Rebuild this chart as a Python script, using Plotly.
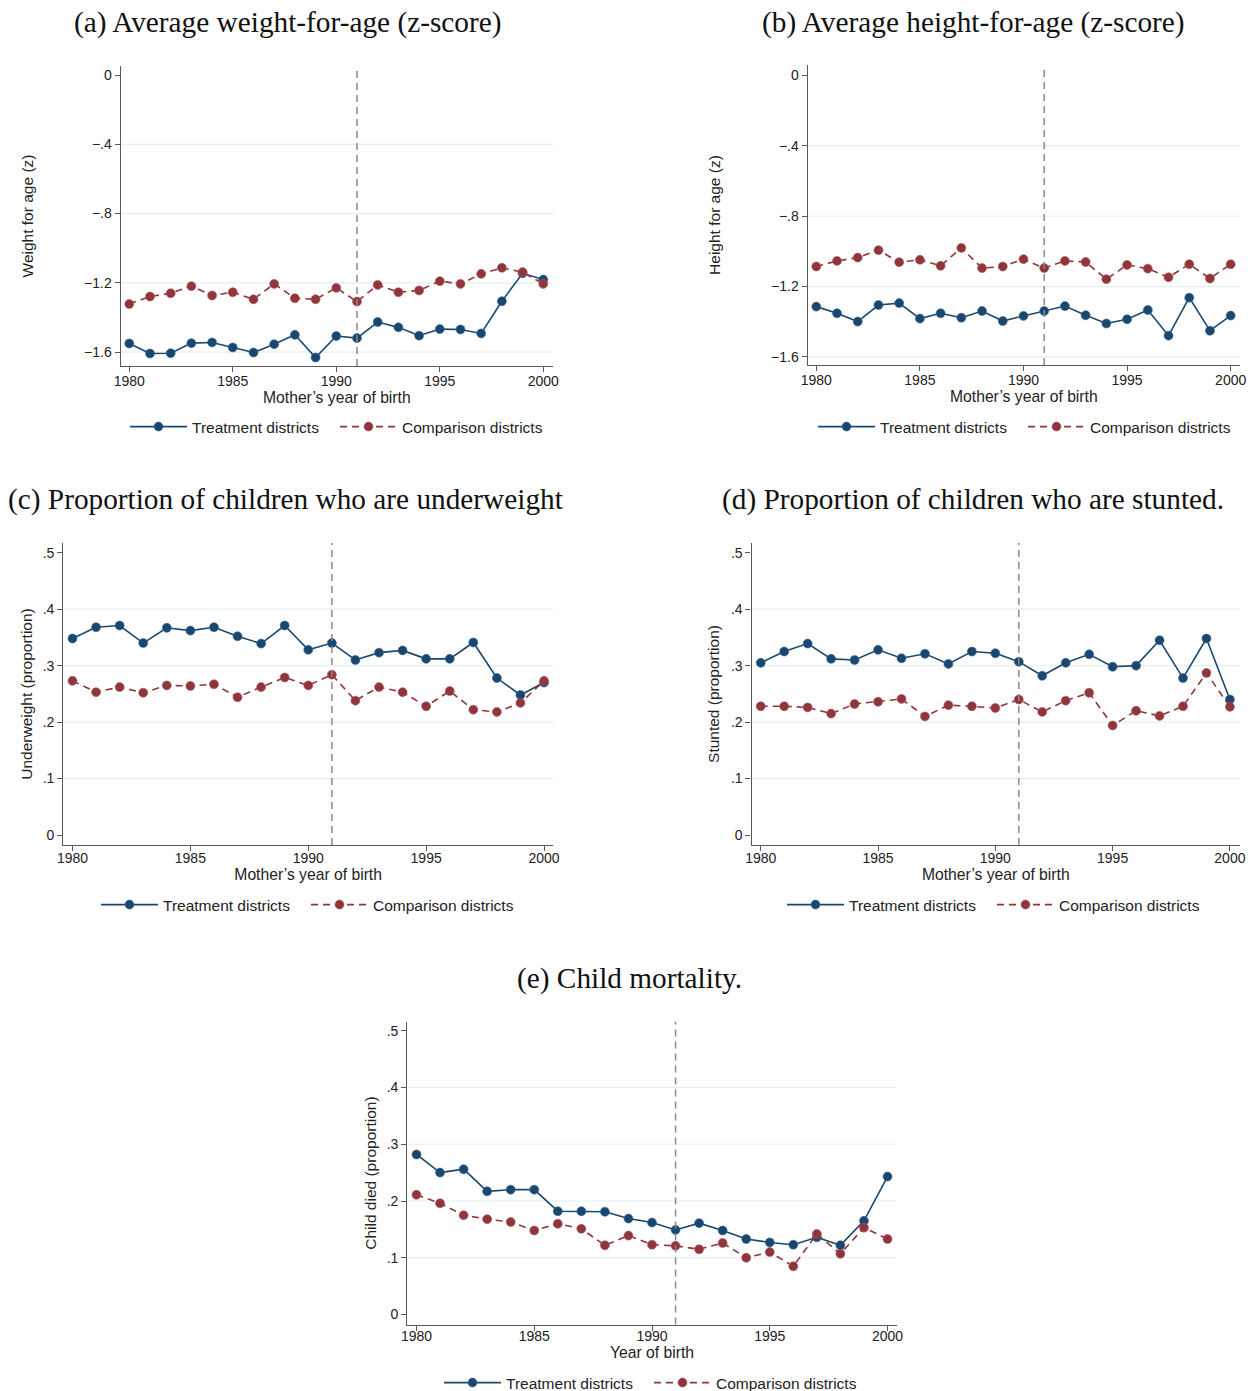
import plotly.graph_objects as go

years = list(range(1980, 2001))

wfa_treat = [-1.550, -1.608, -1.606, -1.548, -1.544, -1.573, -1.602, -1.554, -1.500, -1.631, -1.507,
             -1.519, -1.426, -1.457, -1.505, -1.467, -1.469, -1.492, -1.306, -1.145, -1.181]
wfa_comp = [-1.322, -1.279, -1.260, -1.219, -1.273, -1.254, -1.295, -1.206, -1.289, -1.295, -1.229,
            -1.308, -1.212, -1.254, -1.244, -1.190, -1.206, -1.148, -1.113, -1.138, -1.206]

hfa_treat = [-1.314, -1.352, -1.399, -1.305, -1.294, -1.382, -1.352, -1.377, -1.339, -1.396, -1.367,
             -1.339, -1.311, -1.363, -1.410, -1.386, -1.333, -1.479, -1.263, -1.451, -1.365]
hfa_comp = [-1.086, -1.054, -1.035, -0.993, -1.061, -1.048, -1.082, -0.980, -1.095, -1.086, -1.044,
            -1.095, -1.054, -1.060, -1.158, -1.077, -1.098, -1.147, -1.073, -1.154, -1.073]

uw_treat = [.348, .368, .371, .340, .367, .362, .368, .352, .339, .371, .328,
            .340, .310, .323, .327, .312, .312, .341, .278, .248, .270]
uw_comp = [.273, .253, .262, .252, .265, .264, .267, .244, .262, .279, .265,
           .284, .238, .262, .253, .228, .255, .222, .218, .234, .273]

st_treat = [.305, .325, .339, .312, .310, .328, .313, .321, .303, .325, .322,
            .307, .282, .305, .320, .298, .300, .345, .278, .348, .240]
st_comp = [.228, .228, .226, .215, .232, .236, .241, .210, .230, .228, .225,
           .240, .218, .238, .252, .194, .220, .211, .228, .287, .227]

cm_treat = [.282, .250, .256, .217, .220, .220, .182, .182, .181, .169, .162,
            .149, .161, .148, .133, .127, .123, .136, .122, .165, .243]
cm_comp = [.211, .196, .175, .168, .163, .148, .160, .151, .122, .139, .123,
           .121, .115, .126, .100, .110, .085, .142, .107, .153, .133]

cutoff_year = 1991
x_ticks = [1980, 1985, 1990, 1995, 2000]
z_ticks = [0, -0.4, -0.8, -1.2, -1.6]
z_ticktext = ["0", "\u2212.4", "\u2212.8", "\u22121.2", "\u22121.6"]
p_ticks = [0, .1, .2, .3, .4, .5]
p_ticktext = ["0", ".1", ".2", ".3", ".4", ".5"]

titles = ["(a) Average weight-for-age (z-score)",
          "(b) Average height-for-age (z-score)",
          "(c) Proportion of children who are underweight",
          "(d) Proportion of children who are stunted.",
          "(e) Child mortality."]
y_titles = ["Weight for age (z)", "Height for age (z)", "Underweight (proportion)",
            "Stunted (proportion)", "Child died (proportion)"]
x_titles = ["Mother\u2019s year of birth"] * 4 + ["Year of birth"]
series_names = ["Treatment districts", "Comparison districts"]

panels_data = [(wfa_treat, wfa_comp), (hfa_treat, hfa_comp), (uw_treat, uw_comp),
               (st_treat, st_comp), (cm_treat, cm_comp)]

W, H = 1250, 1391
BLUE = "#1a476f"
RED = "#90353b"
AXIS = "#5a5a5a"
GRID = "#e6eef0"
SANS = "Liberation Sans, Arial, sans-serif"
SERIF = "Liberation Serif, Times New Roman, serif"

# panel pixel boxes: (left, right, top, bottom)
boxes = [(120.7, 553, 66, 366), (807.7, 1240, 65, 365),
         (63.3, 553, 543, 845), (751.6, 1240, 543, 845),
         (407.3, 896.7, 1021.7, 1324.5)]
x_ranges = [(1979.585, 2000.47), (1979.585, 2000.45), (1979.61, 2000.38),
            (1979.61, 2000.43), (1979.61, 2000.39)]
y_ranges = [(-1.680, 0.052), (-1.646, 0.060), (-0.0177, 0.5172),
            (-0.0177, 0.5172), (-0.0176, 0.5159)]
y_title_standoff = [46, 46, 6, 7, 6]
x_label_shift = [-3, -3, -5, -5, -6]
title_pos = [(287, 22), (973, 22), (285, 500), (973, 500), (629, 978)]
legend_pos = [(335, 427), (1023, 427), (306, 905), (992, 905), (649, 1383)]

fig = go.Figure()
layout = dict(width=W, height=H, margin=dict(l=0, r=0, t=0, b=0, autoexpand=False),
              paper_bgcolor="white", plot_bgcolor="white",
              font=dict(family=SANS, size=14, color="#222222"))
annotations = []
shapes = []

for i, (treat, comp) in enumerate(panels_data):
    n = i + 1
    xa = "x" if n == 1 else f"x{n}"
    ya = "y" if n == 1 else f"y{n}"
    lg = "legend" if n == 1 else f"legend{n}"
    fig.add_trace(go.Scatter(x=years, y=treat, mode="lines+markers", name=series_names[0],
                             line=dict(color=BLUE, width=1.6),
                             marker=dict(color=BLUE, size=9, line=dict(color="#3d6a90", width=0.6)),
                             xaxis=xa, yaxis=ya, legend=lg))
    fig.add_trace(go.Scatter(x=years, y=comp, mode="lines+markers", name=series_names[1],
                             line=dict(color=RED, width=1.6, dash="7px,5px"),
                             marker=dict(color=RED, size=9, line=dict(color="#a85a60", width=0.6)),
                             xaxis=xa, yaxis=ya, legend=lg))
    l, r, t, b = boxes[i]
    zscore = i < 2
    yt = z_ticks if zscore else p_ticks
    ytt = z_ticktext if zscore else p_ticktext
    xkey = "xaxis" if n == 1 else f"xaxis{n}"
    ykey = "yaxis" if n == 1 else f"yaxis{n}"
    layout[xkey] = dict(domain=[l / W, r / W], range=list(x_ranges[i]), anchor=ya, automargin=False,
                        tickvals=x_ticks, ticks="outside", ticklen=5, tickcolor=AXIS,
                        ticklabelstandoff=x_label_shift[i],
                        showline=True, linecolor=AXIS, linewidth=1.3, showgrid=False,
                        zeroline=False, tickfont=dict(size=14, family=SANS),
                        title=dict(text=x_titles[i], font=dict(size=15.7, family=SANS), standoff=0))
    layout[ykey] = dict(domain=[1 - b / H, 1 - t / H], range=list(y_ranges[i]), anchor=xa, automargin=False,
                        tickvals=yt, ticktext=ytt, ticks="outside", ticklen=5, tickcolor=AXIS,
                        showline=True, linecolor=AXIS, linewidth=1.3, showgrid=False,
                        zeroline=False, tickfont=dict(size=14, family=SANS),
                        title=dict(text=y_titles[i], font=dict(size=15.5, family=SANS),
                                   standoff=y_title_standoff[i]))
    # inner gridlines (Stata style: not at extreme ticks)
    for v in (yt[1:] if zscore else yt[1:-1]):
        shapes.append(dict(type="line", xref=f"{xa} domain", yref=ya, x0=0, x1=1, y0=v, y1=v,
                           line=dict(color=GRID, width=1.2), layer="below"))
    # cutoff line
    shapes.append(dict(type="line", xref=xa, yref=f"{ya} domain", x0=cutoff_year, x1=cutoff_year,
                       y0=0, y1=1, line=dict(color="#8a8a8a", width=1.5, dash="7px,5px"), layer="above"))
    tx, ty = title_pos[i]
    annotations.append(dict(text=titles[i], xref="paper", yref="paper", x=tx / W, y=1 - ty / H,
                            xanchor="center", yanchor="middle", showarrow=False,
                            font=dict(family=SERIF, size=29.3, color="#111111")))
    lx, ly = legend_pos[i]
    layout[lg] = dict(orientation="h", x=lx / W, y=1 - ly / H, xanchor="center", yanchor="middle",
                      font=dict(size=15.5, family=SANS, color="#222222"), itemwidth=57,
                      entrywidth=138, entrywidthmode="pixels",
                      bgcolor="rgba(0,0,0,0)", traceorder="normal")

layout["annotations"] = annotations
layout["shapes"] = shapes
layout["showlegend"] = True
fig.update_layout(**layout)
fig.write_html("out.html")
